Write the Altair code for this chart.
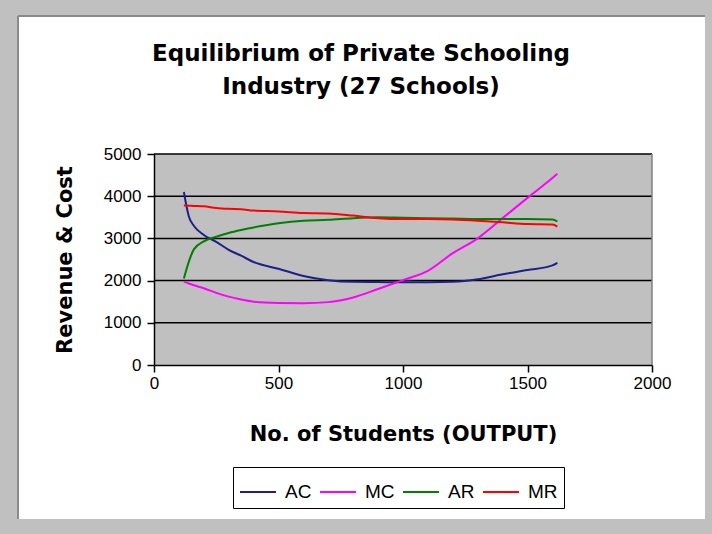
import altair as alt
import pandas as pd

# Number of students (output) at which each curve is sampled
output = [120, 140, 160, 200, 250, 300, 350, 400, 500, 600, 700, 800, 900,
          1000, 1100, 1200, 1300, 1400, 1500, 1600, 1620]

# Average cost
ac = [4100, 3520, 3300, 3080, 2920, 2730, 2590, 2440, 2280, 2110, 2010, 1970,
      1965, 1960, 1960, 1970, 2030, 2150, 2250, 2360, 2420]
# Marginal cost
mc = [1975, 1930, 1890, 1820, 1710, 1620, 1550, 1500, 1470, 1465, 1490, 1600,
      1800, 2010, 2230, 2650, 3000, 3480, 3960, 4430, 4530]
# Average revenue
ar = [2050, 2450, 2740, 2930, 3040, 3130, 3200, 3260, 3360, 3420, 3440, 3480,
      3500, 3490, 3480, 3470, 3460, 3460, 3460, 3450, 3400]
# Marginal revenue
mr = [3780, 3775, 3770, 3760, 3720, 3700, 3690, 3660, 3640, 3600, 3590, 3540,
      3480, 3460, 3460, 3450, 3420, 3380, 3340, 3330, 3280]

curves = ["AC", "MC", "AR", "MR"]
curve_colors = ["#1f1f8c", "#ff00ff", "#008000", "#ff0000"]

x_ticks = [0, 500, 1000, 1500, 2000]
y_ticks = [0, 1000, 2000, 3000, 4000, 5000]

W, H = 498, 211

rows = []
for name, vals in zip(curves, [ac, mc, ar, mr]):
    for xv, yv in zip(output, vals):
        rows.append({"output": xv, "value": yv, "curve": name})
df = pd.DataFrame(rows)

x_scale = alt.Scale(domain=[x_ticks[0], x_ticks[-1]], nice=False, zero=True)
y_scale = alt.Scale(domain=[y_ticks[0], y_ticks[-1]], nice=False, zero=True)

x_axis = alt.Axis(
    values=x_ticks, format="d", title="No. of Students (OUTPUT)", grid=False,
    domainColor="black", domainWidth=1.5, tickColor="black", tickWidth=1.5,
    tickSize=7, labelFont="Liberation Sans", labelFontSize=17,
    labelColor="black", labelPadding=3, labelFlush=False, labelOverlap=False,
    titleFont="DejaVu Sans", titleFontSize=21, titleFontWeight="bold",
    titleColor="black", titlePadding=32, zindex=1,
)
y_axis = alt.Axis(
    values=y_ticks, format="d", title="Revenue & Cost", grid=False,
    domainColor="black", domainWidth=1.5, tickColor="black", tickWidth=1.5,
    tickSize=7, labelFont="Liberation Sans", labelFontSize=17,
    labelColor="black", labelPadding=6, labelFlush=False, labelOverlap=False,
    titleFont="DejaVu Sans", titleFontSize=21, titleFontWeight="bold",
    titleColor="black", titlePadding=28, zindex=1,
)

one = pd.DataFrame({"k": [0]})

# White chart panel behind everything
panel = alt.Chart(one).mark_rect(color="white").encode(
    x=alt.value(-136), x2=alt.value(551), y=alt.value(-138), y2=alt.value(365)
)
panel_left = alt.Chart(one).mark_rule(color="#8a8a8a", strokeWidth=2).encode(
    x=alt.value(-136), y=alt.value(-138), y2=alt.value(365)
)
panel_top = alt.Chart(one).mark_rule(color="#8a8a8a", strokeWidth=2).encode(
    x=alt.value(-136), x2=alt.value(551), y=alt.value(-138)
)

# Gray plot area spanning the full scale domains
plot_bg_df = pd.DataFrame({"x0": [x_ticks[0]], "x1": [x_ticks[-1]],
                           "y0": [y_ticks[0]], "y1": [y_ticks[-1]]})
plot_bg = alt.Chart(plot_bg_df).mark_rect(color="#c0c0c0").encode(
    x=alt.X("x0:Q", scale=x_scale, axis=x_axis),
    x2="x1:Q",
    y=alt.Y("y0:Q", scale=y_scale, axis=y_axis),
    y2="y1:Q",
)

# Horizontal gridlines
grid_df = pd.DataFrame({"g": y_ticks[1:], "x0": x_ticks[0], "x1": x_ticks[-1]})
grid = alt.Chart(grid_df).mark_rule(color="black", strokeWidth=1.5).encode(
    x=alt.X("x0:Q", scale=x_scale, axis=x_axis),
    x2="x1:Q",
    y=alt.Y("g:Q", scale=y_scale, axis=y_axis),
)

# Right-hand border of the plot area
border_df = pd.DataFrame({"bx": [x_ticks[-1]], "y0": [y_ticks[0]], "y1": [y_ticks[-1]]})
border = alt.Chart(border_df).mark_rule(color="#808080", strokeWidth=1.5).encode(
    x=alt.X("bx:Q", scale=x_scale, axis=x_axis),
    y=alt.Y("y0:Q", scale=y_scale, axis=y_axis),
    y2="y1:Q",
)

lines = alt.Chart(df).mark_line(strokeWidth=2, interpolate="monotone").encode(
    x=alt.X("output:Q", scale=x_scale, axis=x_axis),
    y=alt.Y("value:Q", scale=y_scale, axis=y_axis),
    color=alt.Color(
        "curve:N",
        scale=alt.Scale(domain=curves, range=curve_colors),
        sort=curves,
        legend=alt.Legend(
            title=None, orient="none", legendX=79, legendY=313,
            direction="horizontal", columns=4, symbolType="stroke",
            symbolStrokeWidth=2, symbolSize=1296, labelFont="Liberation Sans",
            labelFontSize=19, labelColor="black", labelOffset=8,
            columnPadding=4, padding=6, strokeColor="black",
            fillColor="white",
        ),
    ),
    order=alt.Order("output:Q"),
)

chart = alt.layer(panel, panel_left, panel_top, plot_bg, grid, border, lines).properties(
    width=W,
    height=H,
    autosize=alt.AutoSizeParams(type="none"),
    padding={"left": 154, "top": 154, "right": 60, "bottom": 169},
    background="#c0c0c0",
    title=alt.TitleParams(
        text=["Equilibrium of Private Schooling", "Industry (27 Schools)"],
        anchor="middle", dx=-42, font="DejaVu Sans", fontSize=23,
        fontWeight="bold", color="black", lineHeight=33, offset=-84,
    ),
).configure_view(strokeOpacity=0)

chart.save("out.html", embed_options={"renderer": "svg", "actions": False})
